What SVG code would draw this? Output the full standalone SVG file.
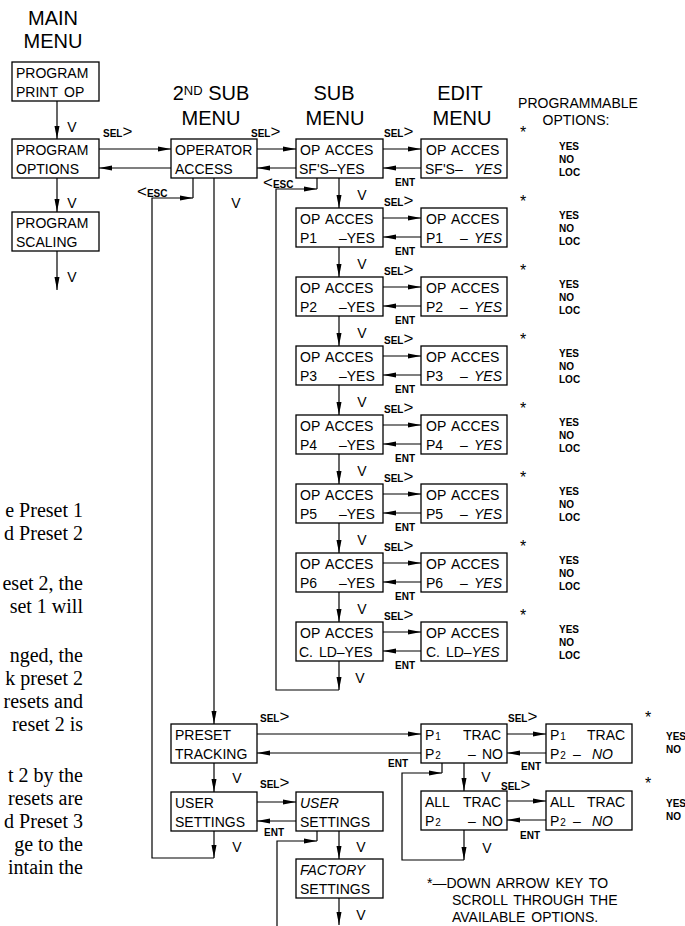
<svg xmlns="http://www.w3.org/2000/svg" width="685" height="926" viewBox="0 0 685 926">
<defs>
<style>
.box{fill:#fff;stroke:#000;stroke-width:1.3}
.ln{fill:none;stroke:#000;stroke-width:1.2}
.arr{fill:none;stroke:#000;stroke-width:1.2;marker-end:url(#ah)}
text{font-family:"Liberation Sans",Arial,sans-serif;font-size:14px;fill:#000}
.hd{font-size:20px;text-anchor:middle}
.sm{font-size:10px;font-weight:bold}
.it{font-style:italic}
.ch{font-size:17px;font-weight:normal}
.v{font-size:14px;text-anchor:middle}
.ast{font-size:16px;text-anchor:middle}
.para{font-family:"Liberation Serif","Times New Roman",serif;font-size:20px;text-anchor:end}
</style>
<marker id="ah" markerUnits="userSpaceOnUse" markerWidth="14" markerHeight="6" refX="13" refY="3" orient="auto">
<path d="M0,0.5 L13,3 L0,5.5 z" fill="#000"/>
</marker>
</defs>
<rect width="685" height="926" fill="#fff"/>

<g id="para">
<text class="para" x="83" y="517">e Preset 1</text>
<text class="para" x="83" y="540">d Preset 2</text>
<text class="para" x="83" y="590">eset 2, the</text>
<text class="para" x="83" y="613">set 1 will</text>
<text class="para" x="83" y="662">nged, the</text>
<text class="para" x="83" y="685">k preset 2</text>
<text class="para" x="83" y="708">resets and</text>
<text class="para" x="83" y="731">reset 2 is</text>
<text class="para" x="83" y="782">t 2 by the</text>
<text class="para" x="83" y="805">resets are</text>
<text class="para" x="83" y="828">d Preset 3</text>
<text class="para" x="83" y="851">ge to the</text>
<text class="para" x="83" y="874">intain the</text>
</g>

<g id="headers">
<text class="hd" x="53" y="25">MAIN</text>
<text class="hd" x="53" y="48">MENU</text>
<text class="hd" x="211" y="100">2<tspan font-size="13" dy="-5">ND</tspan><tspan dy="5"> SUB</tspan></text>
<text class="hd" x="211" y="125">MENU</text>
<text class="hd" x="334" y="100">SUB</text>
<text class="hd" x="335" y="125">MENU</text>
<text class="hd" x="460" y="100">EDIT</text>
<text class="hd" x="462" y="125">MENU</text>
<text x="578" y="108" text-anchor="middle">PROGRAMMABLE</text>
<text x="576" y="125" text-anchor="middle">OPTIONS:</text>
</g>

<g id="connectors">
<line class="arr" x1="57" y1="101" x2="57" y2="139"/>
<line class="arr" x1="57" y1="178" x2="57" y2="212"/>
<line class="arr" x1="57" y1="251" x2="57" y2="290"/>
<line class="arr" x1="99" y1="149" x2="171" y2="149"/>
<line class="arr" x1="171" y1="168" x2="99" y2="168"/>
<line class="arr" x1="257" y1="149" x2="296" y2="149"/>
<line class="arr" x1="296" y1="168" x2="257" y2="168"/>
<line class="arr" x1="214" y1="178" x2="214" y2="724"/>
<line class="ln" x1="193" y1="178" x2="193" y2="198"/>
<polyline class="arr" points="214,858 152,858 152,198 193,198"/>
<line class="arr" x1="214" y1="831" x2="214" y2="858"/>
<line class="ln" x1="317" y1="178" x2="317" y2="189"/>
<polyline class="arr" points="339,690 276,690 276,189 317,189"/>
<line class="arr" x1="339" y1="661" x2="339" y2="690"/>
<line class="arr" x1="383" y1="149" x2="421" y2="149"/><line class="arr" x1="421" y1="168" x2="383" y2="168"/>
<line class="arr" x1="383" y1="218" x2="421" y2="218"/><line class="arr" x1="421" y1="237" x2="383" y2="237"/>
<line class="arr" x1="383" y1="287" x2="421" y2="287"/><line class="arr" x1="421" y1="306" x2="383" y2="306"/>
<line class="arr" x1="383" y1="356" x2="421" y2="356"/><line class="arr" x1="421" y1="375" x2="383" y2="375"/>
<line class="arr" x1="383" y1="425" x2="421" y2="425"/><line class="arr" x1="421" y1="444" x2="383" y2="444"/>
<line class="arr" x1="383" y1="494" x2="421" y2="494"/><line class="arr" x1="421" y1="513" x2="383" y2="513"/>
<line class="arr" x1="383" y1="563" x2="421" y2="563"/><line class="arr" x1="421" y1="582" x2="383" y2="582"/>
<line class="arr" x1="383" y1="632" x2="421" y2="632"/><line class="arr" x1="421" y1="651" x2="383" y2="651"/>
<line class="arr" x1="339" y1="178" x2="339" y2="208"/>
<line class="arr" x1="339" y1="247" x2="339" y2="277"/>
<line class="arr" x1="339" y1="316" x2="339" y2="346"/>
<line class="arr" x1="339" y1="385" x2="339" y2="415"/>
<line class="arr" x1="339" y1="454" x2="339" y2="484"/>
<line class="arr" x1="339" y1="523" x2="339" y2="553"/>
<line class="arr" x1="339" y1="592" x2="339" y2="622"/>
<line class="arr" x1="257" y1="734" x2="421" y2="734"/>
<line class="arr" x1="421" y1="753" x2="257" y2="753"/>
<line class="arr" x1="214" y1="763" x2="214" y2="792"/>
<line class="arr" x1="257" y1="802" x2="296" y2="802"/>
<line class="arr" x1="296" y1="821" x2="257" y2="821"/>
<line class="arr" x1="339" y1="831" x2="339" y2="859"/>
<line class="ln" x1="317" y1="831" x2="317" y2="841"/>
<polyline class="arr" points="277,926 277,841 317,841"/>
<line class="arr" x1="339" y1="898" x2="339" y2="925"/>
<line class="arr" x1="507" y1="734" x2="546" y2="734"/>
<line class="arr" x1="546" y1="753" x2="507" y2="753"/>
<line class="arr" x1="464" y1="763" x2="464" y2="791"/>
<line class="ln" x1="442" y1="763" x2="442" y2="773"/>
<polyline class="arr" points="464,860 402,860 402,773 442,773"/>
<line class="arr" x1="464" y1="830" x2="464" y2="860"/>
<line class="arr" x1="507" y1="801" x2="546" y2="801"/>
<line class="arr" x1="546" y1="820" x2="507" y2="820"/>
</g>

<g id="labels">
<text class="v" x="72" y="132">V</text>
<text class="v" x="72" y="208">V</text>
<text class="v" x="72" y="282">V</text>
<text class="sm" x="103" y="137">SEL<tspan class="ch">&gt;</tspan></text>
<text class="sm" x="137" y="197"><tspan class="ch">&lt;</tspan>ESC</text>
<text class="sm" x="251" y="137">SEL<tspan class="ch">&gt;</tspan></text>
<text class="v" x="236" y="208">V</text>
<text class="sm" x="263" y="188"><tspan class="ch">&lt;</tspan>ESC</text>
<text class="sm" x="260" y="722">SEL<tspan class="ch">&gt;</tspan></text>
<text class="sm" x="388" y="767">ENT</text>
<text class="v" x="237" y="783">V</text>
<text class="sm" x="260" y="788">SEL<tspan class="ch">&gt;</tspan></text>
<text class="sm" x="264" y="836">ENT</text>
<text class="v" x="237" y="852">V</text>
<text class="v" x="361" y="852">V</text>
<text class="v" x="361" y="920">V</text>
<text class="sm" x="508" y="722">SEL<tspan class="ch">&gt;</tspan></text>
<text class="sm" x="521" y="770">ENT</text>
<text class="v" x="486" y="782">V</text>
<text class="sm" x="501" y="790">SEL<tspan class="ch" font-size="16">&gt;</tspan></text>
<text class="sm" x="520" y="839">ENT</text>
<text class="v" x="487" y="853">V</text>
<text class="ast" x="648" y="723">*</text>
<text class="sm" x="666" y="740">YES</text>
<text class="sm" x="666" y="753">NO</text>
<text class="ast" x="648" y="789">*</text>
<text class="sm" x="666" y="807">YES</text>
<text class="sm" x="666" y="820">NO</text>
<text class="sm" x="384" y="137">SEL<tspan class="ch">&gt;</tspan></text><text class="sm" x="395" y="186">ENT</text><text class="ast" x="523" y="138">*</text>
<text class="v" x="362" y="200">V</text><text class="sm" x="384" y="206">SEL<tspan class="ch">&gt;</tspan></text><text class="sm" x="395" y="255">ENT</text><text class="ast" x="523" y="207">*</text>
<text class="v" x="362" y="269">V</text><text class="sm" x="384" y="275">SEL<tspan class="ch">&gt;</tspan></text><text class="sm" x="395" y="324">ENT</text><text class="ast" x="523" y="276">*</text>
<text class="v" x="362" y="338">V</text><text class="sm" x="384" y="344">SEL<tspan class="ch">&gt;</tspan></text><text class="sm" x="395" y="393">ENT</text><text class="ast" x="523" y="345">*</text>
<text class="v" x="362" y="407">V</text><text class="sm" x="384" y="413">SEL<tspan class="ch">&gt;</tspan></text><text class="sm" x="395" y="462">ENT</text><text class="ast" x="523" y="414">*</text>
<text class="v" x="362" y="476">V</text><text class="sm" x="384" y="482">SEL<tspan class="ch">&gt;</tspan></text><text class="sm" x="395" y="531">ENT</text><text class="ast" x="523" y="483">*</text>
<text class="v" x="362" y="545">V</text><text class="sm" x="384" y="551">SEL<tspan class="ch">&gt;</tspan></text><text class="sm" x="395" y="600">ENT</text><text class="ast" x="523" y="552">*</text>
<text class="v" x="362" y="614">V</text><text class="sm" x="384" y="620">SEL<tspan class="ch">&gt;</tspan></text><text class="sm" x="395" y="669">ENT</text><text class="ast" x="523" y="621">*</text>
<text class="v" x="360" y="683">V</text>
</g>

<g id="options">
<text class="sm" x="559" y="150">YES</text><text class="sm" x="559" y="163">NO</text><text class="sm" x="559" y="176">LOC</text>
<text class="sm" x="559" y="219">YES</text><text class="sm" x="559" y="232">NO</text><text class="sm" x="559" y="245">LOC</text>
<text class="sm" x="559" y="288">YES</text><text class="sm" x="559" y="301">NO</text><text class="sm" x="559" y="314">LOC</text>
<text class="sm" x="559" y="357">YES</text><text class="sm" x="559" y="370">NO</text><text class="sm" x="559" y="383">LOC</text>
<text class="sm" x="559" y="426">YES</text><text class="sm" x="559" y="439">NO</text><text class="sm" x="559" y="452">LOC</text>
<text class="sm" x="559" y="495">YES</text><text class="sm" x="559" y="508">NO</text><text class="sm" x="559" y="521">LOC</text>
<text class="sm" x="559" y="564">YES</text><text class="sm" x="559" y="577">NO</text><text class="sm" x="559" y="590">LOC</text>
<text class="sm" x="559" y="633">YES</text><text class="sm" x="559" y="646">NO</text><text class="sm" x="559" y="659">LOC</text>
</g>

<g id="n-program-print-op"><rect class="box" x="12" y="62" width="87" height="39"/><text x="16" y="78">PROGRAM</text><text x="16" y="97">PRINT<tspan x="64">OP</tspan></text></g>
<g id="n-program-options"><rect class="box" x="12" y="139" width="87" height="39"/><text x="16" y="155">PROGRAM</text><text x="16" y="174">OPTIONS</text></g>
<g id="n-program-scaling"><rect class="box" x="12" y="212" width="87" height="39"/><text x="16" y="228">PROGRAM</text><text x="16" y="247">SCALING</text></g>
<g id="n-operator-access"><rect class="box" x="171" y="139" width="86" height="39"/><text x="175" y="155">OPERATOR</text><text x="175" y="174">ACCESS</text></g>

<g id="n-sub-sfs"><rect class="box" x="296" y="139" width="87" height="39"/><text x="300" y="155" word-spacing="2">OP ACCES</text><text x="299" y="174">SF'S–YES</text></g>
<g id="n-edit-sfs"><rect class="box" x="421" y="139" width="86" height="39"/><text x="426" y="155" word-spacing="2">OP ACCES</text><text x="425" y="174">SF'S–<tspan class="it" x="474">YES</tspan></text></g>
<g id="n-sub-p1"><rect class="box" x="296" y="208" width="87" height="39"/><text x="300" y="224" word-spacing="2">OP ACCES</text><text x="300" y="243">P1<tspan x="339">–YES</tspan></text></g>
<g id="n-edit-p1"><rect class="box" x="421" y="208" width="86" height="39"/><text x="426" y="224" word-spacing="2">OP ACCES</text><text x="426" y="243">P1<tspan x="460">–</tspan><tspan class="it" x="474">YES</tspan></text></g>
<g id="n-sub-p2"><rect class="box" x="296" y="277" width="87" height="39"/><text x="300" y="293" word-spacing="2">OP ACCES</text><text x="300" y="312">P2<tspan x="339">–YES</tspan></text></g>
<g id="n-edit-p2"><rect class="box" x="421" y="277" width="86" height="39"/><text x="426" y="293" word-spacing="2">OP ACCES</text><text x="426" y="312">P2<tspan x="460">–</tspan><tspan class="it" x="474">YES</tspan></text></g>
<g id="n-sub-p3"><rect class="box" x="296" y="346" width="87" height="39"/><text x="300" y="362" word-spacing="2">OP ACCES</text><text x="300" y="381">P3<tspan x="339">–YES</tspan></text></g>
<g id="n-edit-p3"><rect class="box" x="421" y="346" width="86" height="39"/><text x="426" y="362" word-spacing="2">OP ACCES</text><text x="426" y="381">P3<tspan x="460">–</tspan><tspan class="it" x="474">YES</tspan></text></g>
<g id="n-sub-p4"><rect class="box" x="296" y="415" width="87" height="39"/><text x="300" y="431" word-spacing="2">OP ACCES</text><text x="300" y="450">P4<tspan x="339">–YES</tspan></text></g>
<g id="n-edit-p4"><rect class="box" x="421" y="415" width="86" height="39"/><text x="426" y="431" word-spacing="2">OP ACCES</text><text x="426" y="450">P4<tspan x="460">–</tspan><tspan class="it" x="474">YES</tspan></text></g>
<g id="n-sub-p5"><rect class="box" x="296" y="484" width="87" height="39"/><text x="300" y="500" word-spacing="2">OP ACCES</text><text x="300" y="519">P5<tspan x="339">–YES</tspan></text></g>
<g id="n-edit-p5"><rect class="box" x="421" y="484" width="86" height="39"/><text x="426" y="500" word-spacing="2">OP ACCES</text><text x="426" y="519">P5<tspan x="460">–</tspan><tspan class="it" x="474">YES</tspan></text></g>
<g id="n-sub-p6"><rect class="box" x="296" y="553" width="87" height="39"/><text x="300" y="569" word-spacing="2">OP ACCES</text><text x="300" y="588">P6<tspan x="339">–YES</tspan></text></g>
<g id="n-edit-p6"><rect class="box" x="421" y="553" width="86" height="39"/><text x="426" y="569" word-spacing="2">OP ACCES</text><text x="426" y="588">P6<tspan x="460">–</tspan><tspan class="it" x="474">YES</tspan></text></g>
<g id="n-sub-cld"><rect class="box" x="296" y="622" width="87" height="39"/><text x="300" y="638" word-spacing="2">OP ACCES</text><text x="299" y="657" word-spacing="2">C. LD–YES</text></g>
<g id="n-edit-cld"><rect class="box" x="421" y="622" width="86" height="39"/><text x="426" y="638" word-spacing="2">OP ACCES</text><text x="426" y="657" word-spacing="2">C. LD–<tspan class="it">YES</tspan></text></g>

<g id="n-preset-tracking"><rect class="box" x="171" y="724" width="86" height="39"/><text x="175" y="740">PRESET</text><text x="175" y="759">TRACKING</text></g>
<g id="n-user-settings"><rect class="box" x="171" y="792" width="86" height="39"/><text x="175" y="808">USER</text><text x="175" y="827">SETTINGS</text></g>
<g id="n-user-settings-edit"><rect class="box" x="296" y="792" width="87" height="39"/><text class="it" x="300" y="808">USER</text><text x="300" y="827">SETTINGS</text></g>
<g id="n-factory-settings"><rect class="box" x="296" y="859" width="87" height="39"/><text class="it" x="300" y="875">FACTORY</text><text x="300" y="894">SETTINGS</text></g>
<g id="n-p1-trac"><rect class="box" x="421" y="724" width="86" height="39"/><text x="425" y="740">P<tspan font-size="10" dx="1">1</tspan><tspan x="463">TRAC</tspan></text><text x="425" y="759">P<tspan font-size="10" dx="1">2</tspan><tspan x="468">–</tspan><tspan x="482">NO</tspan></text></g>
<g id="n-p1-trac-edit"><rect class="box" x="546" y="724" width="86" height="39"/><text x="550" y="740">P<tspan font-size="10" dx="1">1</tspan><tspan x="587">TRAC</tspan></text><text x="550" y="759">P<tspan font-size="10" dx="1">2</tspan><tspan x="573">–</tspan><tspan class="it" x="592">NO</tspan></text></g>
<g id="n-all-trac"><rect class="box" x="421" y="791" width="86" height="39"/><text x="425" y="807">ALL<tspan x="463">TRAC</tspan></text><text x="425" y="826">P<tspan font-size="10" dx="1">2</tspan><tspan x="468">–</tspan><tspan x="482">NO</tspan></text></g>
<g id="n-all-trac-edit"><rect class="box" x="546" y="791" width="86" height="39"/><text x="550" y="807">ALL<tspan x="587">TRAC</tspan></text><text x="550" y="826">P<tspan font-size="10" dx="1">2</tspan><tspan x="573">–</tspan><tspan class="it" x="592">NO</tspan></text></g>

<g id="footnote">
<text x="427" y="888" word-spacing="2">*—DOWN ARROW KEY TO</text>
<text x="452" y="905" word-spacing="2">SCROLL THROUGH THE</text>
<text x="452" y="922" word-spacing="2">AVAILABLE OPTIONS.</text>
</g>
</svg>
